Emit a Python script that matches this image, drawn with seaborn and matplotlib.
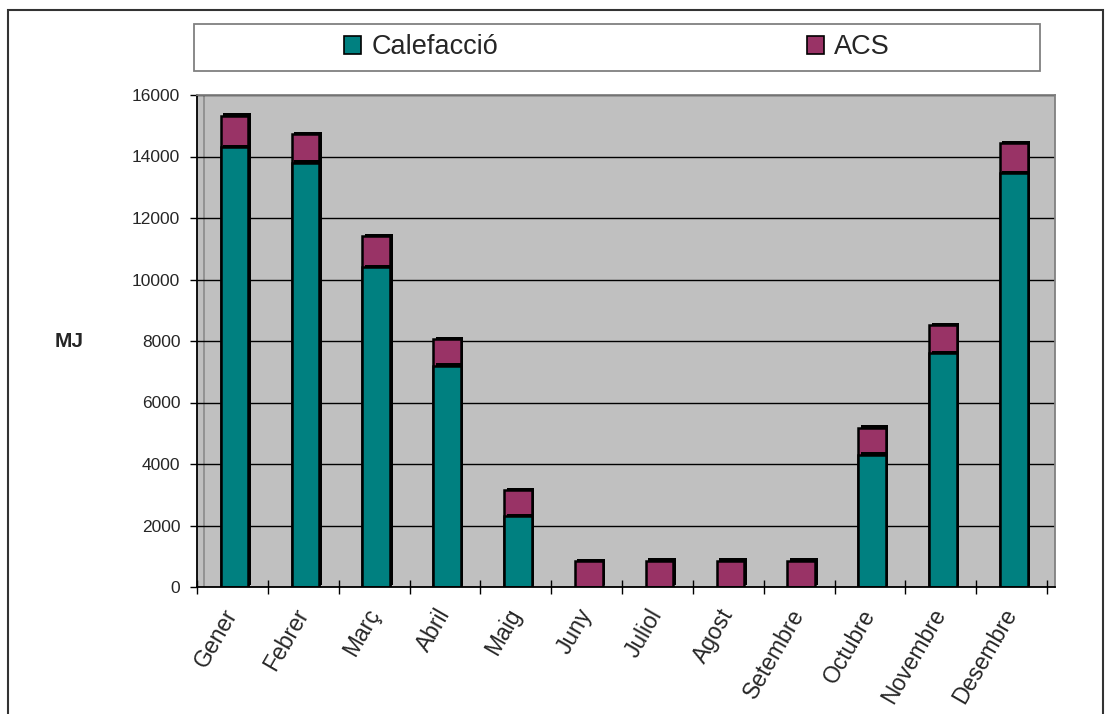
import matplotlib
matplotlib.use("Agg")
import matplotlib.pyplot as plt
import matplotlib.patheffects as pe
import matplotlib.transforms as mtransforms
from matplotlib.patches import Rectangle, Patch
import pandas as pd
import seaborn as sns

mesos = ["Gener", "Febrer", "Març", "Abril", "Maig", "Juny", "Juliol",
         "Agost", "Setembre", "Octubre", "Novembre", "Desembre"]
calefaccio = [14300, 13800, 10400, 7200, 2300, 0, 0, 0, 0, 4300, 7600, 13450]
acs = [1020, 920, 1000, 860, 850, 840, 860, 860, 860, 880, 910, 980]
yticks = [0, 2000, 4000, 6000, 8000, 10000, 12000, 14000, 16000]

TEAL = "#008080"
PLUM = "#993366"
GRIS = "#C0C0C0"

df = pd.DataFrame({"mes": mesos, "Calefacció": calefaccio, "ACS": acs})
df["total"] = df["Calefacció"] + df["ACS"]

sns.set_style("white")
plt.rcParams["font.family"] = ["Liberation Sans", "DejaVu Sans"]

W, H = 1112, 714
fig = plt.figure(figsize=(W / 100, H / 100), dpi=100)
ax = fig.add_axes([197 / W, 1 - 587 / H, (1055 - 197) / W, (587 - 95) / H])
ax.set_facecolor(GRIS)

# outer frame of the chart object
fig.patches.append(Rectangle((8 / W, -0.1), (1103 - 8) / W, 1.1 - 10 / H,
                             transform=fig.transFigure, fill=False,
                             edgecolor="#333333", linewidth=1.5, zorder=0))

ax.yaxis.grid(True, color="black", linewidth=1)
ax.set_axisbelow(True)

shadow = [pe.SimplePatchShadow(offset=(1.8, 1.8), shadow_rgbFace="black", alpha=1), pe.Normal()]

sns.barplot(data=df, x="mes", y="total", color=PLUM, saturation=1, width=0.39,
            edgecolor="black", linewidth=1.8, ax=ax)
sns.barplot(data=df, x="mes", y="Calefacció", color=TEAL, saturation=1, width=0.39,
            edgecolor="black", linewidth=1.8, ax=ax)
for p in ax.patches:
    if p.get_height() > 0:
        p.set_x(p.get_x() + 0.03)
        p.set_path_effects(shadow)
    else:
        p.set_visible(False)

slot = (1047 - 197) / 12
ax.set_xlim(-0.5, 11.5 + 8 / slot)
ax.set_ylim(0, 16000)
ax.axvline(-0.5 + 7 / slot, color="#8a8a8a", linewidth=1.2, zorder=0.5)

ax.set_yticks(yticks)
ax.set_yticklabels([str(v) for v in yticks])
ax.tick_params(axis="y", direction="out", length=5, width=1, color="black",
               labelsize=12.5, pad=7, left=True)
ax.set_xticks(range(len(mesos)))
ax.set_xticks([i - 0.5 for i in range(len(mesos) + 1)], minor=True)
ax.set_xticklabels(mesos, rotation=60, ha="right", va="center",
                   rotation_mode="anchor", fontsize=16.5)
shift = mtransforms.ScaledTranslation(1 / 100, 0, fig.dpi_scale_trans)
for lab in ax.get_xticklabels():
    lab.set_transform(lab.get_transform() + shift)
ax.tick_params(axis="x", which="major", length=0, pad=17)
ax.tick_params(axis="x", which="minor", direction="inout", length=10, width=1,
               color="black", bottom=True)
ax.set_xlabel("")
ax.set_ylabel("")

for s in ["left", "bottom"]:
    ax.spines[s].set_color("black")
    ax.spines[s].set_linewidth(1.3)
for s in ["top", "right"]:
    ax.spines[s].set_color("#808080")
    ax.spines[s].set_linewidth(1.3)

fig.text(69 / W, 1 - 341 / H, "MJ", fontsize=15, fontweight="bold", ha="center", va="center")

# legend box
fig.patches.append(Rectangle((194 / W, 1 - 71 / H), (1040 - 194) / W, 47 / H,
                             transform=fig.transFigure, facecolor="white",
                             edgecolor="#808080", linewidth=1.3, zorder=1))
handles = [Patch(facecolor=TEAL, edgecolor="black", linewidth=1.2, label="Calefacció"),
           Patch(facecolor=PLUM, edgecolor="black", linewidth=1.2, label="ACS")]
fig.legend(handles=handles, loc="center", bbox_to_anchor=(617 / W, 1 - 47.5 / H),
           ncol=2, frameon=False, fontsize=19.5, handlelength=0.63, handleheight=0.63,
           handletextpad=0.38, columnspacing=11.4)

fig.savefig("out.png", dpi=100)
